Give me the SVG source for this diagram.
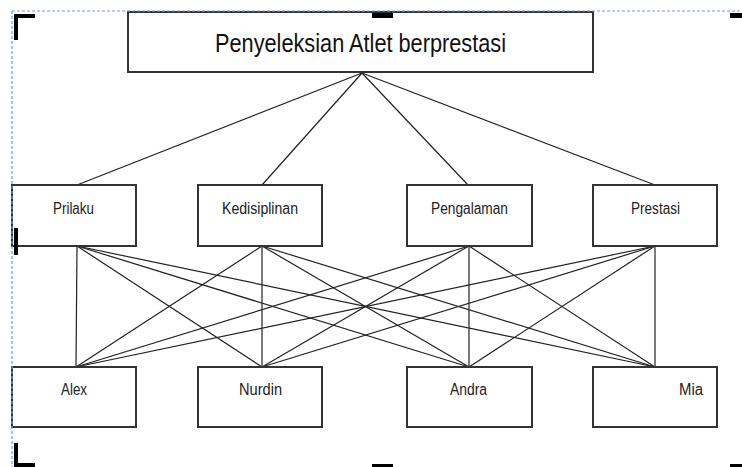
<svg xmlns="http://www.w3.org/2000/svg" width="742" height="467" viewBox="0 0 742 467">
<style>
.box{fill:#fff;stroke:#333;stroke-width:2}
.lbl{font-family:"Liberation Sans",Arial,sans-serif;font-size:16px;fill:#222}
.ttl{font-family:"Liberation Sans",Arial,sans-serif;font-size:26px;fill:#111}
.con line{stroke:#222;stroke-width:1.2}
.mark{fill:#000}
</style>
<rect width="742" height="467" fill="#fff"/>
<g class="con" id="connectors">
<line x1="362" y1="73" x2="77" y2="185"/>
<line x1="362" y1="73" x2="262" y2="185"/>
<line x1="362" y1="73" x2="468" y2="185"/>
<line x1="362" y1="73" x2="655" y2="185"/>
<line x1="77" y1="246" x2="76" y2="367"/>
<line x1="77" y1="246" x2="262" y2="367"/>
<line x1="77" y1="246" x2="469" y2="367"/>
<line x1="77" y1="246" x2="655" y2="367"/>
<line x1="262" y1="246" x2="76" y2="367"/>
<line x1="262" y1="246" x2="262" y2="367"/>
<line x1="262" y1="246" x2="469" y2="367"/>
<line x1="262" y1="246" x2="655" y2="367"/>
<line x1="469" y1="246" x2="76" y2="367"/>
<line x1="469" y1="246" x2="262" y2="367"/>
<line x1="469" y1="246" x2="469" y2="367"/>
<line x1="469" y1="246" x2="655" y2="367"/>
<line x1="655" y1="246" x2="76" y2="367"/>
<line x1="655" y1="246" x2="262" y2="367"/>
<line x1="655" y1="246" x2="469" y2="367"/>
<line x1="655" y1="246" x2="655" y2="367"/>
</g>
<g id="goal"><rect class="box" x="128" y="12" width="465" height="60"/><text class="ttl" x="215" y="52" textLength="291" lengthAdjust="spacingAndGlyphs">Penyeleksian Atlet berprestasi</text></g>
<g id="prilaku"><rect class="box" x="12" y="185" width="124" height="61"/><text class="lbl" x="53" y="214" textLength="41" lengthAdjust="spacingAndGlyphs">Prilaku</text></g>
<g id="kedisiplinan"><rect class="box" x="198" y="185" width="124" height="61"/><text class="lbl" x="222" y="214" textLength="76" lengthAdjust="spacingAndGlyphs">Kedisiplinan</text></g>
<g id="pengalaman"><rect class="box" x="407" y="185" width="125" height="61"/><text class="lbl" x="431" y="214" textLength="77" lengthAdjust="spacingAndGlyphs">Pengalaman</text></g>
<g id="prestasi"><rect class="box" x="593" y="185" width="124" height="61"/><text class="lbl" x="631" y="214" textLength="49" lengthAdjust="spacingAndGlyphs">Prestasi</text></g>
<g id="alex"><rect class="box" x="12" y="367" width="124" height="60"/><text class="lbl" x="61" y="395" textLength="26" lengthAdjust="spacingAndGlyphs">Alex</text></g>
<g id="nurdin"><rect class="box" x="198" y="367" width="124" height="60"/><text class="lbl" x="239" y="395" textLength="43" lengthAdjust="spacingAndGlyphs">Nurdin</text></g>
<g id="andra"><rect class="box" x="407" y="367" width="125" height="60"/><text class="lbl" x="450" y="395" textLength="37" lengthAdjust="spacingAndGlyphs">Andra</text></g>
<g id="mia"><rect class="box" x="593" y="367" width="124" height="60"/><text class="lbl" x="679" y="395" textLength="24" lengthAdjust="spacingAndGlyphs">Mia</text></g>
<g id="frame">
<line x1="12" y1="11" x2="742" y2="11" stroke="#6d9eeb" stroke-width="1.2" stroke-dasharray="3,2"/>
<line x1="12" y1="11" x2="12" y2="467" stroke="#6d9eeb" stroke-width="1.2" stroke-dasharray="3,2"/>
<rect class="mark" x="14" y="14" width="21" height="4"/>
<rect class="mark" x="14" y="14" width="4" height="26"/>
<rect class="mark" x="372" y="13" width="21" height="5"/>
<rect class="mark" x="730" y="13" width="12" height="5"/>
<rect class="mark" x="14" y="228" width="4" height="27"/>
<rect class="mark" x="14" y="443" width="4" height="24"/>
<rect class="mark" x="14" y="463" width="21" height="4"/>
<rect class="mark" x="372" y="464" width="21" height="3"/>
<rect class="mark" x="730" y="464" width="12" height="3"/>
</g>
</svg>
